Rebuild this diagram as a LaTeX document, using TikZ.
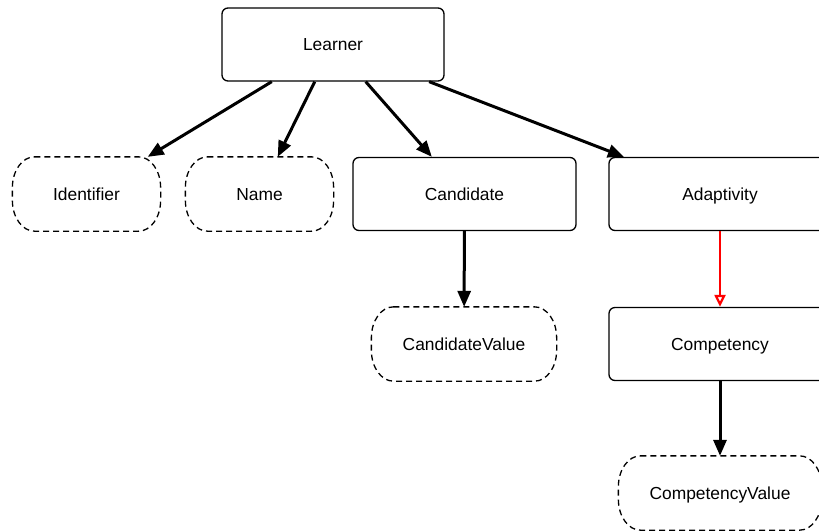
\documentclass[tikz,border=0pt]{standalone}
\usepackage{fontspec}
\setmainfont{Liberation Sans}
\usetikzlibrary{arrows.meta}
% dashed frame with elliptic corners around a value node
\newcommand\valframe[1]{%
  \draw[frame]
    ([xshift=22pt]#1.north west) -- ([xshift=-22pt]#1.north east)
    arc[start angle=90,end angle=0,x radius=22pt,y radius=31pt]
    -- ([yshift=31pt]#1.south east)
    arc[start angle=0,end angle=-90,x radius=22pt,y radius=31pt]
    -- ([xshift=22pt]#1.south west)
    arc[start angle=-90,end angle=-180,x radius=22pt,y radius=31pt]
    -- ([yshift=-31pt]#1.north west)
    arc[start angle=180,end angle=90,x radius=22pt,y radius=31pt]
    -- cycle;}
\begin{document}
\begin{tikzpicture}[x=1pt,y=-1pt,
  box/.style={draw, line width=1.3pt, rounded corners=6pt, minimum height=73pt,
    inner sep=0pt, text height=12.4pt, text depth=0pt,
    font=\fontsize{17.4}{20}\selectfont},
  valbox/.style={box, draw=none},
  frame/.style={line width=1.3pt, dash pattern=on 6pt off 4pt},
  link/.style={line width=3pt, -{Triangle[length=16pt,width=13pt]}},
  inherit/.style={draw=red, line width=2.6pt, -{Triangle[open,length=12pt,width=11pt,line width=2.2pt]}}]
  \useasboundingbox (0,0) rectangle (819,531);
  \clip (0,0) rectangle (819,531);
  \node[box, minimum width=222pt] (learner) at (333,44.5) {Learner};
  \node[valbox, minimum width=147pt] (identifier) at (86.5,194) {Identifier};
  \node[valbox, minimum width=147pt] (name) at (259.5,194) {Name};
  \node[box, minimum width=223pt] (candidate) at (464.5,194) {Candidate};
  \node[box, minimum width=222pt] (adaptivity) at (720,194) {Adaptivity};
  \node[valbox, minimum width=184pt] (candval) at (464,344) {CandidateValue};
  \node[box, minimum width=222pt] (competency) at (720,344) {Competency};
  \node[valbox, minimum width=202pt] (compval) at (720,493) {CompetencyValue};
  \valframe{identifier}
  \valframe{name}
  \valframe{candval}
  \valframe{compval}
  \draw[link] (learner) -- (identifier);
  \draw[link] (learner) -- (name);
  \draw[link] (learner) -- (candidate);
  \draw[link] (learner) -- (adaptivity);
  \draw[link] (candidate) -- (candval);
  \draw[inherit] (adaptivity) -- (competency);
  \draw[link] (competency) -- (compval);
\end{tikzpicture}
\end{document}
